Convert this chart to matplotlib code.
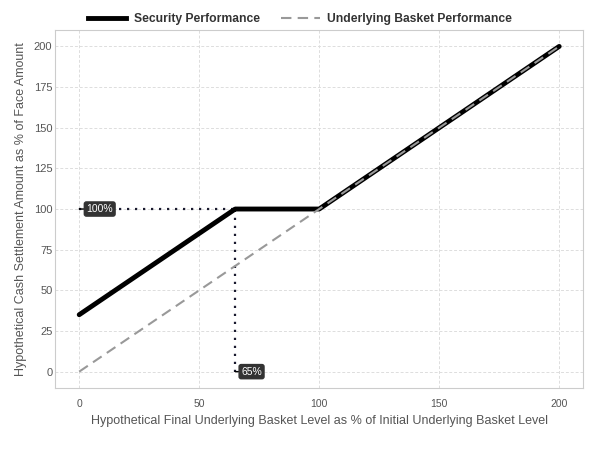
import matplotlib
matplotlib.use("Agg")
import matplotlib.pyplot as plt
from matplotlib.lines import Line2D

plt.rcParams['font.family'] = ['Liberation Sans', 'DejaVu Sans']

security_x = [0, 65, 100, 200]
security_y = [35, 100, 100, 200]
basket_x = [0, 200]
basket_y = [0, 200]
buffer_level = 65
principal_level = 100
x_ticks = [0, 50, 100, 150, 200]
y_ticks = [0, 25, 50, 75, 100, 125, 150, 175, 200]

fig = plt.figure(figsize=(6, 4.5), dpi=100)
ax = fig.add_axes([0.092, 0.138, 0.88, 0.795])

ax.plot(security_x, security_y, color='black', lw=3.5, solid_capstyle='round', zorder=3)
ax.plot(basket_x, basket_y, color='#999999', lw=1.5, ls=(0, (5, 3)), zorder=4)

ax.plot([0, buffer_level], [principal_level, principal_level], color='#1a1a2e', lw=1.6, ls=(0, (1, 2.6)), zorder=2)
ax.plot([buffer_level, buffer_level], [0, principal_level], color='#1a1a2e', lw=1.6, ls=(0, (1, 2.6)), zorder=2)

box = dict(boxstyle='round,pad=0.2', fc='#333333', ec='#333333')
ax.annotate('100%', xy=(0, principal_level), xytext=(3, principal_level), color='white', fontsize=7.5,
            va='center', ha='left', bbox=box, zorder=5,
            arrowprops=dict(arrowstyle='-', color='black', lw=1, shrinkA=0, shrinkB=0))
ax.annotate('65%', xy=(buffer_level, 0), xytext=(buffer_level + 2.5, 0), color='white', fontsize=7.5,
            va='center', ha='left', bbox=box, zorder=5,
            arrowprops=dict(arrowstyle='-', color='black', lw=1, shrinkA=0, shrinkB=0))

ax.set_xlim(-10, 210)
ax.set_ylim(-10, 210)
ax.set_xticks(x_ticks)
ax.set_yticks(y_ticks)
ax.tick_params(axis='y', length=0, labelsize=8, colors='#555555', pad=2)
ax.tick_params(axis='x', length=0, labelsize=7.5, colors='#555555', pad=8)
ax.grid(True, color='#dddddd', ls=(0, (3, 2)), lw=0.7)
ax.set_axisbelow(True)
for s in ax.spines.values():
    s.set_color('#cccccc')
    s.set_linewidth(0.8)

ax.set_xlabel('Hypothetical Final Underlying Basket Level as % of Initial Underlying Basket Level',
              fontsize=9, color='#555555', labelpad=4)
ax.set_ylabel('Hypothetical Cash Settlement Amount as % of Face Amount',
              fontsize=9, color='#555555', labelpad=5)

handles = [Line2D([], [], color='black', lw=3.5),
           Line2D([], [], color='#999999', lw=1.5, ls=(0, (5, 3)))]
leg = fig.legend(handles, ['Security Performance', 'Underlying Basket Performance'],
                 loc='center', bbox_to_anchor=(0.5, 0.957), ncol=2, frameon=False,
                 prop={'weight': 'bold', 'size': 8.7}, handlelength=3.2, columnspacing=1.8,
                 handletextpad=0.6)
for t in leg.get_texts():
    t.set_color('#333333')

fig.savefig('out.png', dpi=100)
